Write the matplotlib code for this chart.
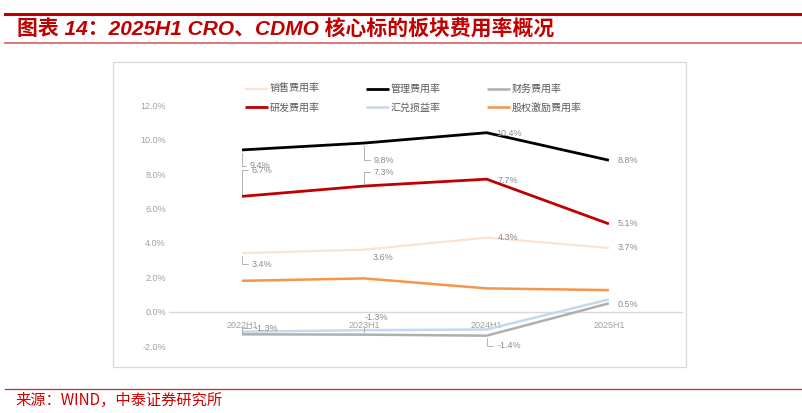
import matplotlib
matplotlib.use("Agg")
import matplotlib.pyplot as plt
from matplotlib.patches import Rectangle
from matplotlib.lines import Line2D

plt.rcParams['font.family'] = ['Liberation Sans', 'Noto Sans CJK SC', 'DejaVu Sans']

# ---------------- data ----------------
periods = ["2022H1", "2023H1", "2024H1", "2025H1"]
sales = [3.4, 3.6, 4.3, 3.7]          # 销售费用率
admin = [9.4, 9.8, 10.4, 8.8]         # 管理费用率
finance = [-1.32, -1.34, -1.40, 0.48] # 财务费用率
rnd = [6.7, 7.3, 7.7, 5.1]            # 研发费用率
fx = [-1.17, -1.08, -1.04, 0.71]      # 汇兑损益率
equity = [1.79, 1.93, 1.35, 1.25]     # 股权激励费用率

names = ["销售费用率", "管理费用率", "财务费用率", "研发费用率", "汇兑损益率", "股权激励费用率"]
yticks = [-2, 0, 2, 4, 6, 8, 10, 12]

W, H = 803, 413
fig = plt.figure(figsize=(W / 100, H / 100), dpi=100)

def fx_(px):
    return px / W

def fy_(py):
    return 1 - py / H

# header / footer decorations
fig.add_artist(Line2D([fx_(5), 1], [fy_(14), fy_(14)], color="#C00000", lw=2.2))
fig.add_artist(Line2D([fx_(5), 1], [fy_(42.5), fy_(42.5)], color="#E07575", lw=1.4))
fig.add_artist(Line2D([fx_(5), 1], [fy_(389), fy_(389)], color="#D62020", lw=0.9))
fig.text(fx_(17), fy_(29), "图表 14：2025H1 CRO、CDMO 核心标的板块费用率概况",
         color="#C00000", fontsize=15, fontweight="bold", fontstyle="italic",
         family=['Liberation Sans', 'Noto Sans CJK SC'], va="center", ha="left")
fig.text(fx_(15), fy_(400), "来源：WIND，中泰证券研究所", color="#D00000",
         fontsize=11, family=['Noto Sans CJK SC', 'DejaVu Sans'], va="center", ha="left")

# chart border box
fig.add_artist(Rectangle((fx_(113), fy_(367)), fx_(686 - 113), (367 - 62) / H,
                         transform=fig.transFigure, fill=False, edgecolor="#D9D9D9", lw=0.9))

# axes placement: 0% at y=311.6 px, 1% = 17.2 px; x: 2022H1 at 242 px, step 122.3 px
ylo, yhi = -3.0, 13.5
y0px, per = 311.6, 17.2
top_px = y0px - yhi * per
bot_px = y0px - ylo * per
xlo, xhi = -0.6, 3.6
step = 122.3
left_px = 242 + xlo * step
right_px = 242 + xhi * step
ax = fig.add_axes([fx_(left_px), fy_(bot_px), fx_(right_px - left_px), (bot_px - top_px) / H])
ax.set_xlim(xlo, xhi)
ax.set_ylim(ylo, yhi)
ax.patch.set_alpha(0)

for s in ["top", "right", "left"]:
    ax.spines[s].set_visible(False)
ax.spines["bottom"].set_position(("data", 0))
ax.spines["bottom"].set_color("#D9D9D9")
ax.spines["bottom"].set_linewidth(1.0)
ax.spines["bottom"].set_zorder(0.5)
ax.set_xticks(range(len(periods)))
ax.set_xticklabels(periods)
ax.set_yticks(yticks)
ax.set_yticklabels([f"{v:.1f}%" for v in yticks])
ax.tick_params(axis="x", length=0, pad=7, labelsize=6.5, labelcolor="#A0A0A0")
ax.tick_params(axis="y", length=0, pad=2, labelsize=6.5, labelcolor="#A0A0A0")

x = list(range(len(periods)))
series = [
    (sales, "#FBE3D4", 1.6),
    (admin, "#000000", 2.0),
    (finance, "#AFAFAF", 1.8),
    (rnd, "#C00000", 2.0),
    (fx, "#C6D8EE", 1.8),
    (equity, "#F5964A", 1.8),
]
handles = []
for (vals, col, lw), nm in zip(series, names):
    h, = ax.plot(x, vals, color=col, lw=lw, solid_capstyle="butt", label=nm, zorder=3)
    handles.append(h)

# data labels: (series values, index, dx px, dy px, leader)
lab_color = "#8C8C8C"
labels = [
    (admin, 0, 8, -16, True), (admin, 1, 9.5, -17, True), (admin, 2, 10, -1, False), (admin, 3, 9, 0, False),
    (rnd, 0, 10, 26, True), (rnd, 1, 9.5, 14, True), (rnd, 2, 11, -1, False), (rnd, 3, 9, 0, False),
    (sales, 0, 10, -11, True), (sales, 1, 8.5, -8, False), (sales, 2, 11, 0, False), (sales, 3, 9, 0, False),
    (finance, 0, 13, 6, True), (finance, 1, 0, 17, True), (finance, 2, 11, -10, True), (finance, 3, 9, -1, False),
]
for vals, i, dx, dy, leader in labels:
    kw = {}
    if leader:
        kw["arrowprops"] = dict(arrowstyle="-", color="#A6A6A6", lw=0.6, shrinkA=1, shrinkB=2,
                                relpos=(0, 0.5),
                                connectionstyle="angle,angleA=0,angleB=90,rad=0")
    ax.annotate(f"{vals[i]:.1f}%", xy=(i, vals[i]), xytext=(dx, dy), textcoords="offset pixels",
                ha="left", va="center", fontsize=6.5, color=lab_color, zorder=4, **kw)

# legend
order = [0, 3, 1, 4, 2, 5]
leg = fig.legend([handles[k] for k in order], [names[k] for k in order], ncol=3,
                 loc="upper left", bbox_to_anchor=(fx_(245), fy_(84)), frameon=False,
                 prop={"family": ["Noto Sans CJK SC"], "size": 7.2},
                 handlelength=2.3, handletextpad=0.2, columnspacing=4.6, labelspacing=0.85,
                 borderpad=0, borderaxespad=0)
for t in leg.get_texts():
    t.set_color("#595959")

fig.savefig("out.png", dpi=100)
